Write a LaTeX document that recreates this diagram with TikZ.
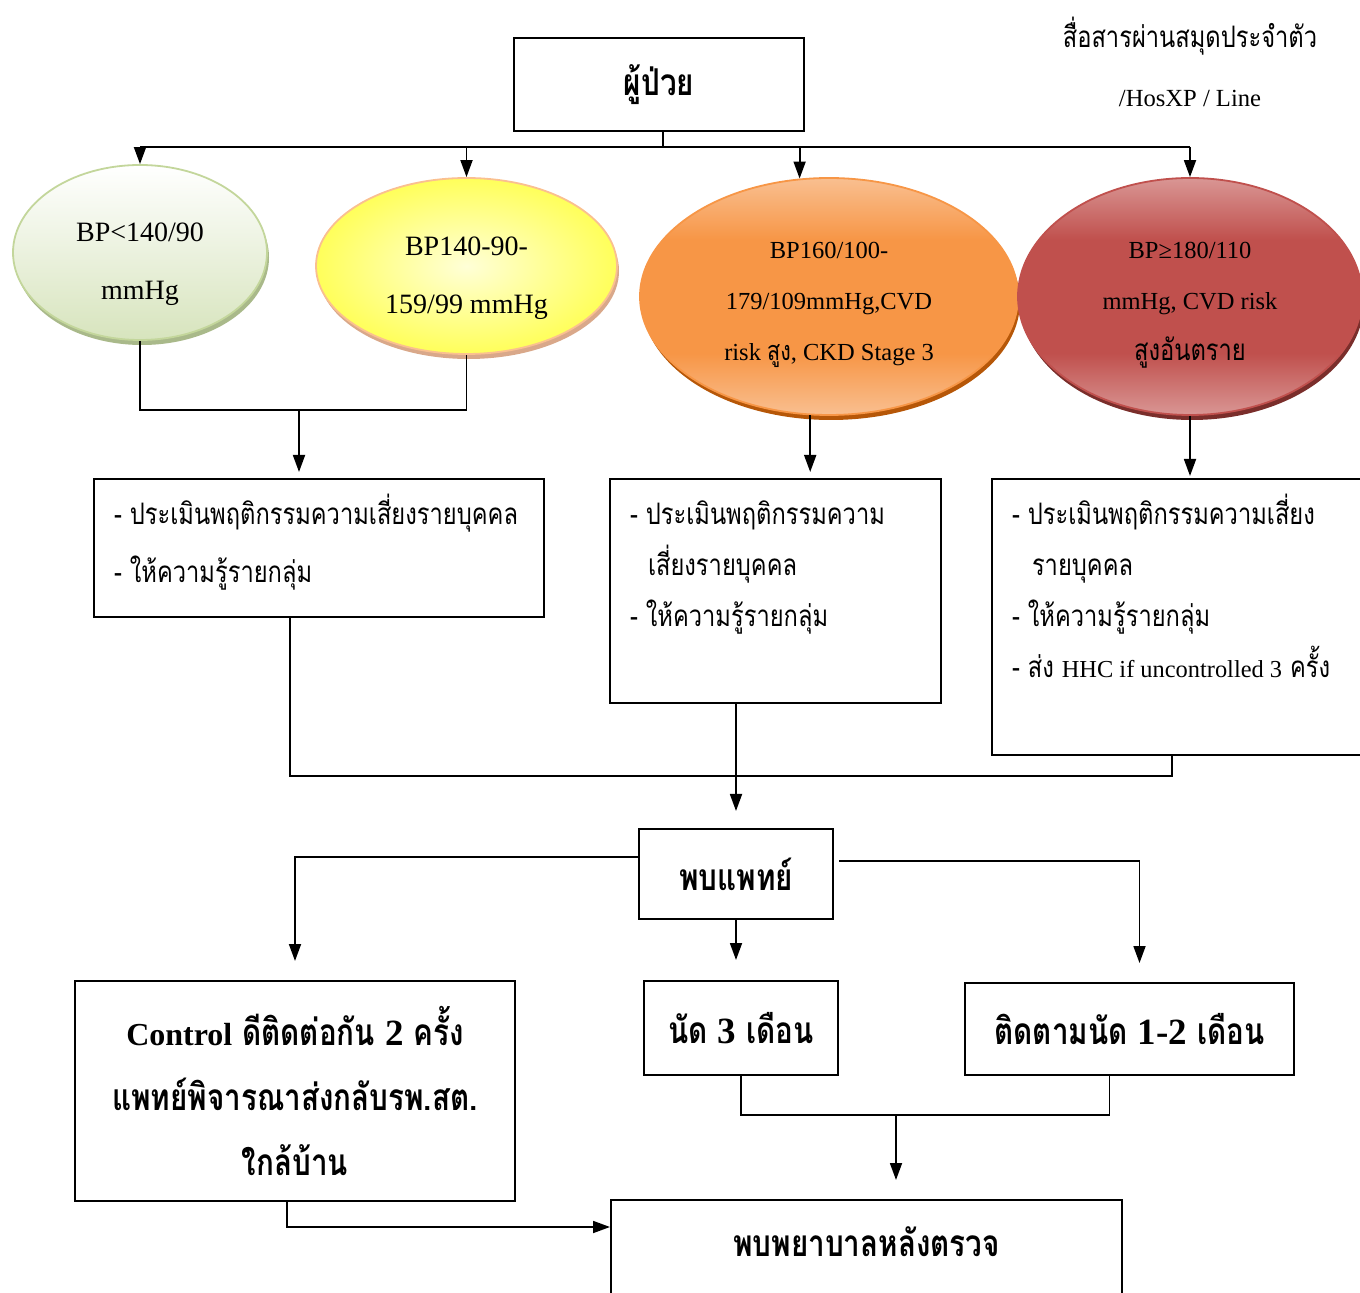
\documentclass[tikz,border=0pt]{standalone}
\usepackage{fontspec}
\setmainfont{Liberation Serif}
\newfontfamily\thai[Script=Thai,FakeStretch=0.8]{Loma}
\usetikzlibrary{shapes.geometric,shadows,arrows.meta}
\definecolor{greenrim}{HTML}{C3D69B}
\definecolor{greenlow}{HTML}{D7E4BD}
\definecolor{greenshade}{HTML}{A9B98A}
\definecolor{yellowrim}{HTML}{FAC090}
\definecolor{yellowshade}{HTML}{D9A88A}
\definecolor{orangerim}{HTML}{F79646}
\definecolor{orangelight}{HTML}{F9BF90}
\definecolor{orangeshade}{HTML}{B65708}
\definecolor{redrim}{HTML}{C0504D}
\definecolor{redlight}{HTML}{D99694}
\definecolor{redshade}{HTML}{7A2E2B}
\pgfdeclareverticalshading{orangeband}{100bp}{color(0bp)=(orangelight); color(25bp)=(orangelight);
  color(38bp)=(orangerim); color(62bp)=(orangerim); color(75bp)=(orangelight); color(100bp)=(orangelight)}
\pgfdeclareverticalshading{redband}{100bp}{color(0bp)=(redlight); color(25bp)=(redlight);
  color(38bp)=(redrim); color(62bp)=(redrim); color(75bp)=(redlight); color(100bp)=(redlight)}

\begin{document}
\begin{tikzpicture}[x=0.5pt,y=-0.5pt,
  box/.style={draw, line width=1pt, inner sep=0pt},
  care/.style={box, anchor=north west, inner xsep=10pt, font=\thai\fontsize{14.8}{25.5}\selectfont},
  bold/.style={box, align=center, font=\thai\bfseries\fontsize{18.5}{32.5}\selectfont},
  bp/.style={ellipse, inner sep=0pt, align=center, line width=0.9pt},
  link/.style={line width=0.9pt},
  arr/.style={link, -{Triangle[length=8.5pt,width=6pt]}}]
\useasboundingbox (0,0) rectangle (1360,1293);
\clip (0,0) rectangle (1360,1293);

% top
\node[box, line width=1.2pt, minimum width=145pt, minimum height=46.5pt,
  font=\thai\bfseries\fontsize{18.5}{20}\selectfont] (patient) at (659,84.5) {ผู้ป่วย};
\node[align=center, font=\fontsize{14.8}{29.5}\selectfont] (notes) at (1190,62)
  {{\thai สื่อสารผ่านสมุดประจำตัว}\\{\fontsize{12.3}{14}\selectfont /HosXP / Line}};

% blood pressure groups
\node[bp, draw=greenrim, top color=white, bottom color=greenlow,
  drop shadow={shadow xshift=1pt, shadow yshift=-2.5pt, fill=greenshade, opacity=1},
  minimum width=127pt, minimum height=87.5pt, font=\fontsize{14}{29}\selectfont]
  (bpA) at (140,252.5) {\rule{0pt}{21.5pt}BP<140/90\\mmHg};
\node[bp, draw=yellowrim, inner color={rgb,255:red,255;green,255;blue,215}, outer color={rgb,255:red,255;green,255;blue,90},
  drop shadow={shadow xshift=1pt, shadow yshift=-2.5pt, fill=yellowshade, opacity=1},
  minimum width=150.5pt, minimum height=88pt, font=\fontsize{14}{29}\selectfont]
  (bpB) at (466.5,266) {\rule{0pt}{21.5pt}BP140-90-\\159/99 mmHg};
\node[bp, draw=orangerim, shading=orangeband,
  drop shadow={shadow xshift=1pt, shadow yshift=-2.5pt, fill=orangeshade, opacity=1},
  minimum width=189pt, minimum height=118.5pt, font=\fontsize{12.25}{25.5}\selectfont]
  (bpC) at (829,296.5) {\rule{0pt}{16.3pt}BP160/100-\\179/109mmHg,CVD\\risk {\thai\fontsize{13.5}{25.5}\selectfont สูง}, CKD Stage 3};
\node[bp, draw=redrim, shading=redband,
  drop shadow={shadow xshift=1pt, shadow yshift=-2.5pt, fill=redshade, opacity=1},
  minimum width=172pt, minimum height=118.5pt, font=\fontsize{12.25}{25.5}\selectfont]
  (bpD) at (1190,296.5) {\rule{0pt}{16.5pt}BP≥180/110\\mmHg, CVD risk\\{\thai\fontsize{14.8}{25.5}\selectfont สูงอันตราย}};

% care
\node[care, font=\thai\fontsize{14.8}{29}\selectfont] (careA) at (93,478)
  {\parbox[t][69pt][t]{205pt}{\rule{0pt}{23pt}- ประเมินพฤติกรรมความเสี่ยงรายบุคคล\\- ให้ความรู้รายกลุ่ม}};
\node[care] (careB) at (609,478)
  {\parbox[t][112pt][t]{145.5pt}{\rule{0pt}{23pt}- ประเมินพฤติกรรมความ\\\hspace*{9pt}เสี่ยงรายบุคคล\\- ให้ความรู้รายกลุ่ม}};
\node[care] (careC) at (991,478)
  {\parbox[t][138pt][t]{172pt}{\rule{0pt}{23pt}- ประเมินพฤติกรรมความเสี่ยง\\\hspace*{10pt}รายบุคคล\\- ให้ความรู้รายกลุ่ม\\- ส่ง {\rmfamily\fontsize{12.2}{25.5}\selectfont HHC if uncontrolled 3} ครั้ง}};

% doctor and follow up
\node[bold, minimum width=97pt, minimum height=45pt] (doctor) at (736,874) {พบแพทย์};
\node[bold, minimum width=220pt, minimum height=110pt] (ctrl) at (295,1091)
  {{\rmfamily\fontsize{16}{32.5}\selectfont Control} ดีติดต่อกัน {\rmfamily 2} ครั้ง\\แพทย์พิจารณาส่งกลับรพ.สต.\\ใกล้บ้าน};
\node[bold, minimum width=97pt, minimum height=47pt] (appt) at (741,1028) {นัด {\rmfamily 3} เดือน};
\node[bold, minimum width=164.5pt, minimum height=46pt] (follow) at (1129.5,1029) {ติดตามนัด {\rmfamily 1-2} เดือน};
\node[bold, anchor=north, minimum width=255.5pt, inner ysep=8pt, text height=20pt, text depth=40pt]
  (nurse) at (866.5,1199) {พบพยาบาลหลังตรวจ};

\coordinate (split) at (663,147);
\coordinate (joinAB) at (299,410);
\coordinate (mergeL) at (290,776);
\coordinate (mergeR) at (1172,776);
\coordinate (joinBot) at (896,1115);

\draw[link] (split |- patient.south) -- (split);
\draw[link] (bpA.north |- split) -- (bpD.north |- split);
\foreach \e in {bpA.north,bpB.north,bpC.104,bpD.north}
  \draw[arr] (\e |- split) -- (\e);
\draw[link] (bpA.south) |- (joinAB) -| (bpB.south);
\draw[arr, shorten >=3pt] (joinAB) -- (joinAB |- careA.north);
\draw[arr, shorten >=3pt] (bpC.261) -- (bpC.261 |- careB.north);
\draw[arr, shorten >=1pt] (bpD.south) -- (bpD.south |- careC.north);
\draw[link] (mergeL |- careA.south) -- (mergeL) -- (mergeR) -- (mergeR |- careC.south);
\draw[arr, shorten >=8.5pt] (doctor.north |- careB.south) -- (doctor.north);
\draw[arr, shorten >=9.5pt] ([yshift=8.5pt]doctor.west) -| (ctrl.north);
\draw[arr, shorten >=10pt] (doctor.south) -- (doctor.south |- appt.north);
\draw[arr, shorten >=9.5pt] ([xshift=2.5pt,yshift=6.5pt]doctor.east) -| ([xshift=5pt]follow.north);
\draw[link] (appt.south) |- (joinBot) -| ([xshift=-10pt]follow.south);
\draw[arr, shorten >=9.5pt] (joinBot) -- (joinBot |- nurse.north);
\draw[arr] ([xshift=-4pt]ctrl.south) |- ([yshift=-14pt]nurse.north west);
\end{tikzpicture}
\end{document}
